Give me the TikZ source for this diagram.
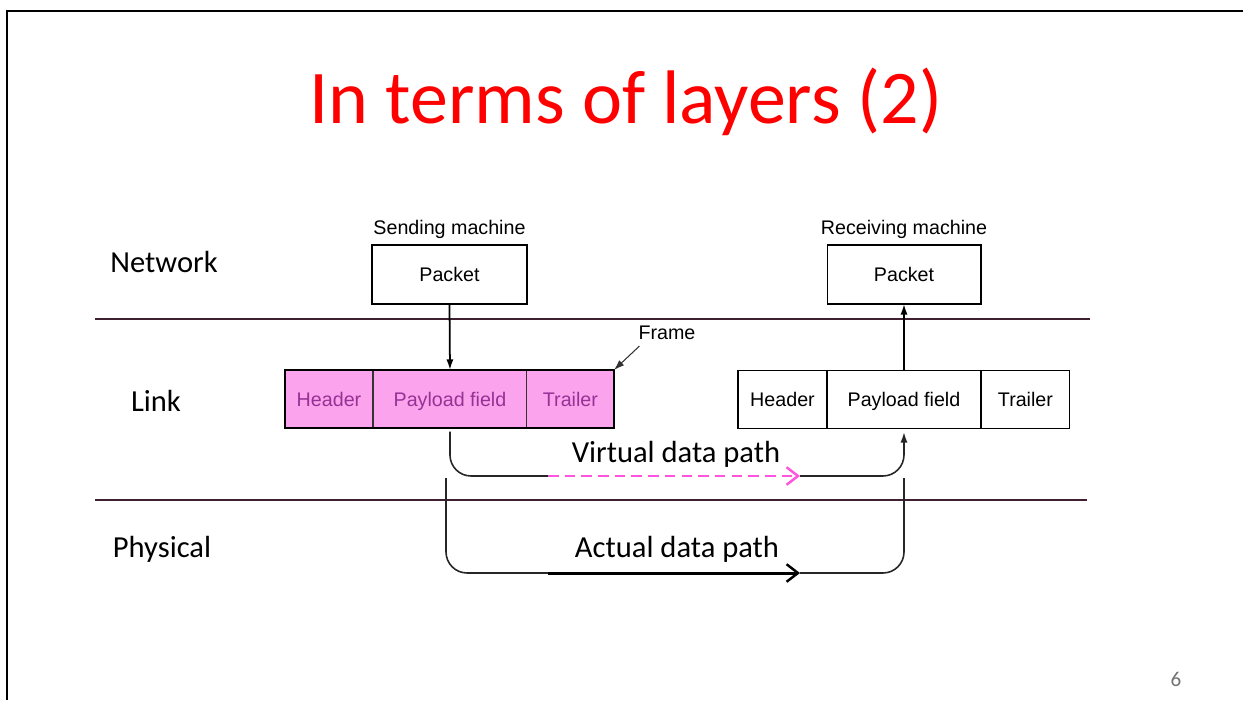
\documentclass[tikz,border=0pt]{standalone}
\usepackage{fontspec}
\setmainfont{Carlito}
\newfontfamily\helv{Liberation Sans}
\usetikzlibrary{positioning,arrows.meta}
\definecolor{layerline}{RGB}{64,32,48}
\definecolor{framepink}{RGB}{251,163,236}
\definecolor{framepurple}{RGB}{150,50,150}
\definecolor{virtpink}{RGB}{255,85,220}

\begin{document}
\begin{tikzpicture}[x=0.02cm, y=-0.02cm,
    cell/.style={draw, line width=0.6pt, minimum height=1.16cm, inner sep=0pt, outer sep=0pt, text height=9.4pt, text depth=1.2pt, font=\helv\fontsize{11.2}{13}\selectfont},
    pinkcell/.style={cell, fill=framepink, text=framepurple, draw=black!80},
    small/.style={font=\helv\fontsize{11.2}{13}\selectfont},
    layername/.style={font=\fontsize{17.4}{20}\selectfont},
    pathline/.style={line width=0.9pt, black!85, rounded corners=12pt},
    barb/.style={-{Straight Barb[length=6.5pt,width=10pt,line width=1.4pt]}}]
    \useasboundingbox (0,0) rectangle (1243,700);
    % slide border
    \draw[line width=1.7pt] (1243,11) -- (7,11) -- (7,700);
    \node[text=red, font=\fontsize{43.2}{50}\selectfont] (title) at (626,102) {In terms of layers (2)};

    % layers
    \node[layername] (network) at (164,262) {Network};
    \node[layername] (link) at (156,401) {Link};
    \node[layername] (physical) at (162,549) {Physical};
    \draw[layerline, line width=0.8pt] (95,319) -- (1090,319);
    \draw[layerline, line width=0.8pt] (95,500) -- (1087,500);

    % sending side
    \node[cell, minimum width=3.1cm, minimum height=1.18cm] (spack) at (449.5,274.5) {Packet};
    \node[small, above=0pt of spack] (sendlbl) {Sending machine};
    \node[pinkcell, minimum width=1.76cm] (lhead) at (329,399) {Header};
    \node[pinkcell, minimum width=3.08cm, right=0pt of lhead] (lpay) {Payload field};
    \node[pinkcell, minimum width=1.74cm, right=0pt of lpay] (ltrail) {Trailer};
    \draw[line width=1pt] (lhead.north west) rectangle (ltrail.south east);
    \draw[line width=1pt, -{Latex[length=6pt,width=4pt]}] (spack.south) -- (lpay.north);
    \node[small] (framelbl) at (667,333) {Frame};
    \draw[line width=0.6pt, black!80, -{Latex[length=6pt,width=4pt]}] ([xshift=4pt]framelbl.south west) -- (ltrail.north east);

    % receiving side
    \node[cell, minimum width=3.08cm, minimum height=1.18cm] (rpack) at (904,274.5) {Packet};
    \node[small, above=0pt of rpack] (recvlbl) {Receiving machine};
    \node[cell, minimum width=1.78cm] (rhead) at (782.5,399.5) {Header};
    \node[cell, minimum width=3.08cm, right=0pt of rhead] (rpay) {Payload field};
    \node[cell, minimum width=1.78cm, right=0pt of rpay] (rtrail) {Trailer};
    \draw[line width=1pt, -{Latex[length=6pt,width=4pt]}] (rpay.north) -- (rpack.south);

    % virtual data path
    \coordinate (vstart) at (548,476);
    \coordinate (vend) at (800,476);
    \draw[pathline] ([yshift=-2pt]lpay.south) |- (vstart);
    \draw[virtpink, line width=1.3pt, dash pattern=on 6pt off 3.5pt, barb] (vstart) -- (vend);
    \draw[pathline, -{Latex[length=6pt,width=4pt]}] (vend) -| ([yshift=-2pt]rpay.south);
    \node[layername] (virtlbl) at (676,454) {Virtual data path};

    % actual data path
    \coordinate (a0) at (446,478);
    \coordinate (astart) at (548,573);
    \coordinate (aend) at (800,573);
    \coordinate (a1) at (904,478);
    \draw[pathline] (a0) |- (astart);
    \draw[line width=1.7pt, barb] (astart) -- (aend);
    \draw[pathline] (aend) -| (a1);
    \node[layername] (actlbl) at (677,549) {Actual data path};

    \node[text=black!55, font=\fontsize{12}{14}\selectfont] (pagenum) at (1176,679) {6};
\end{tikzpicture}
\end{document}
